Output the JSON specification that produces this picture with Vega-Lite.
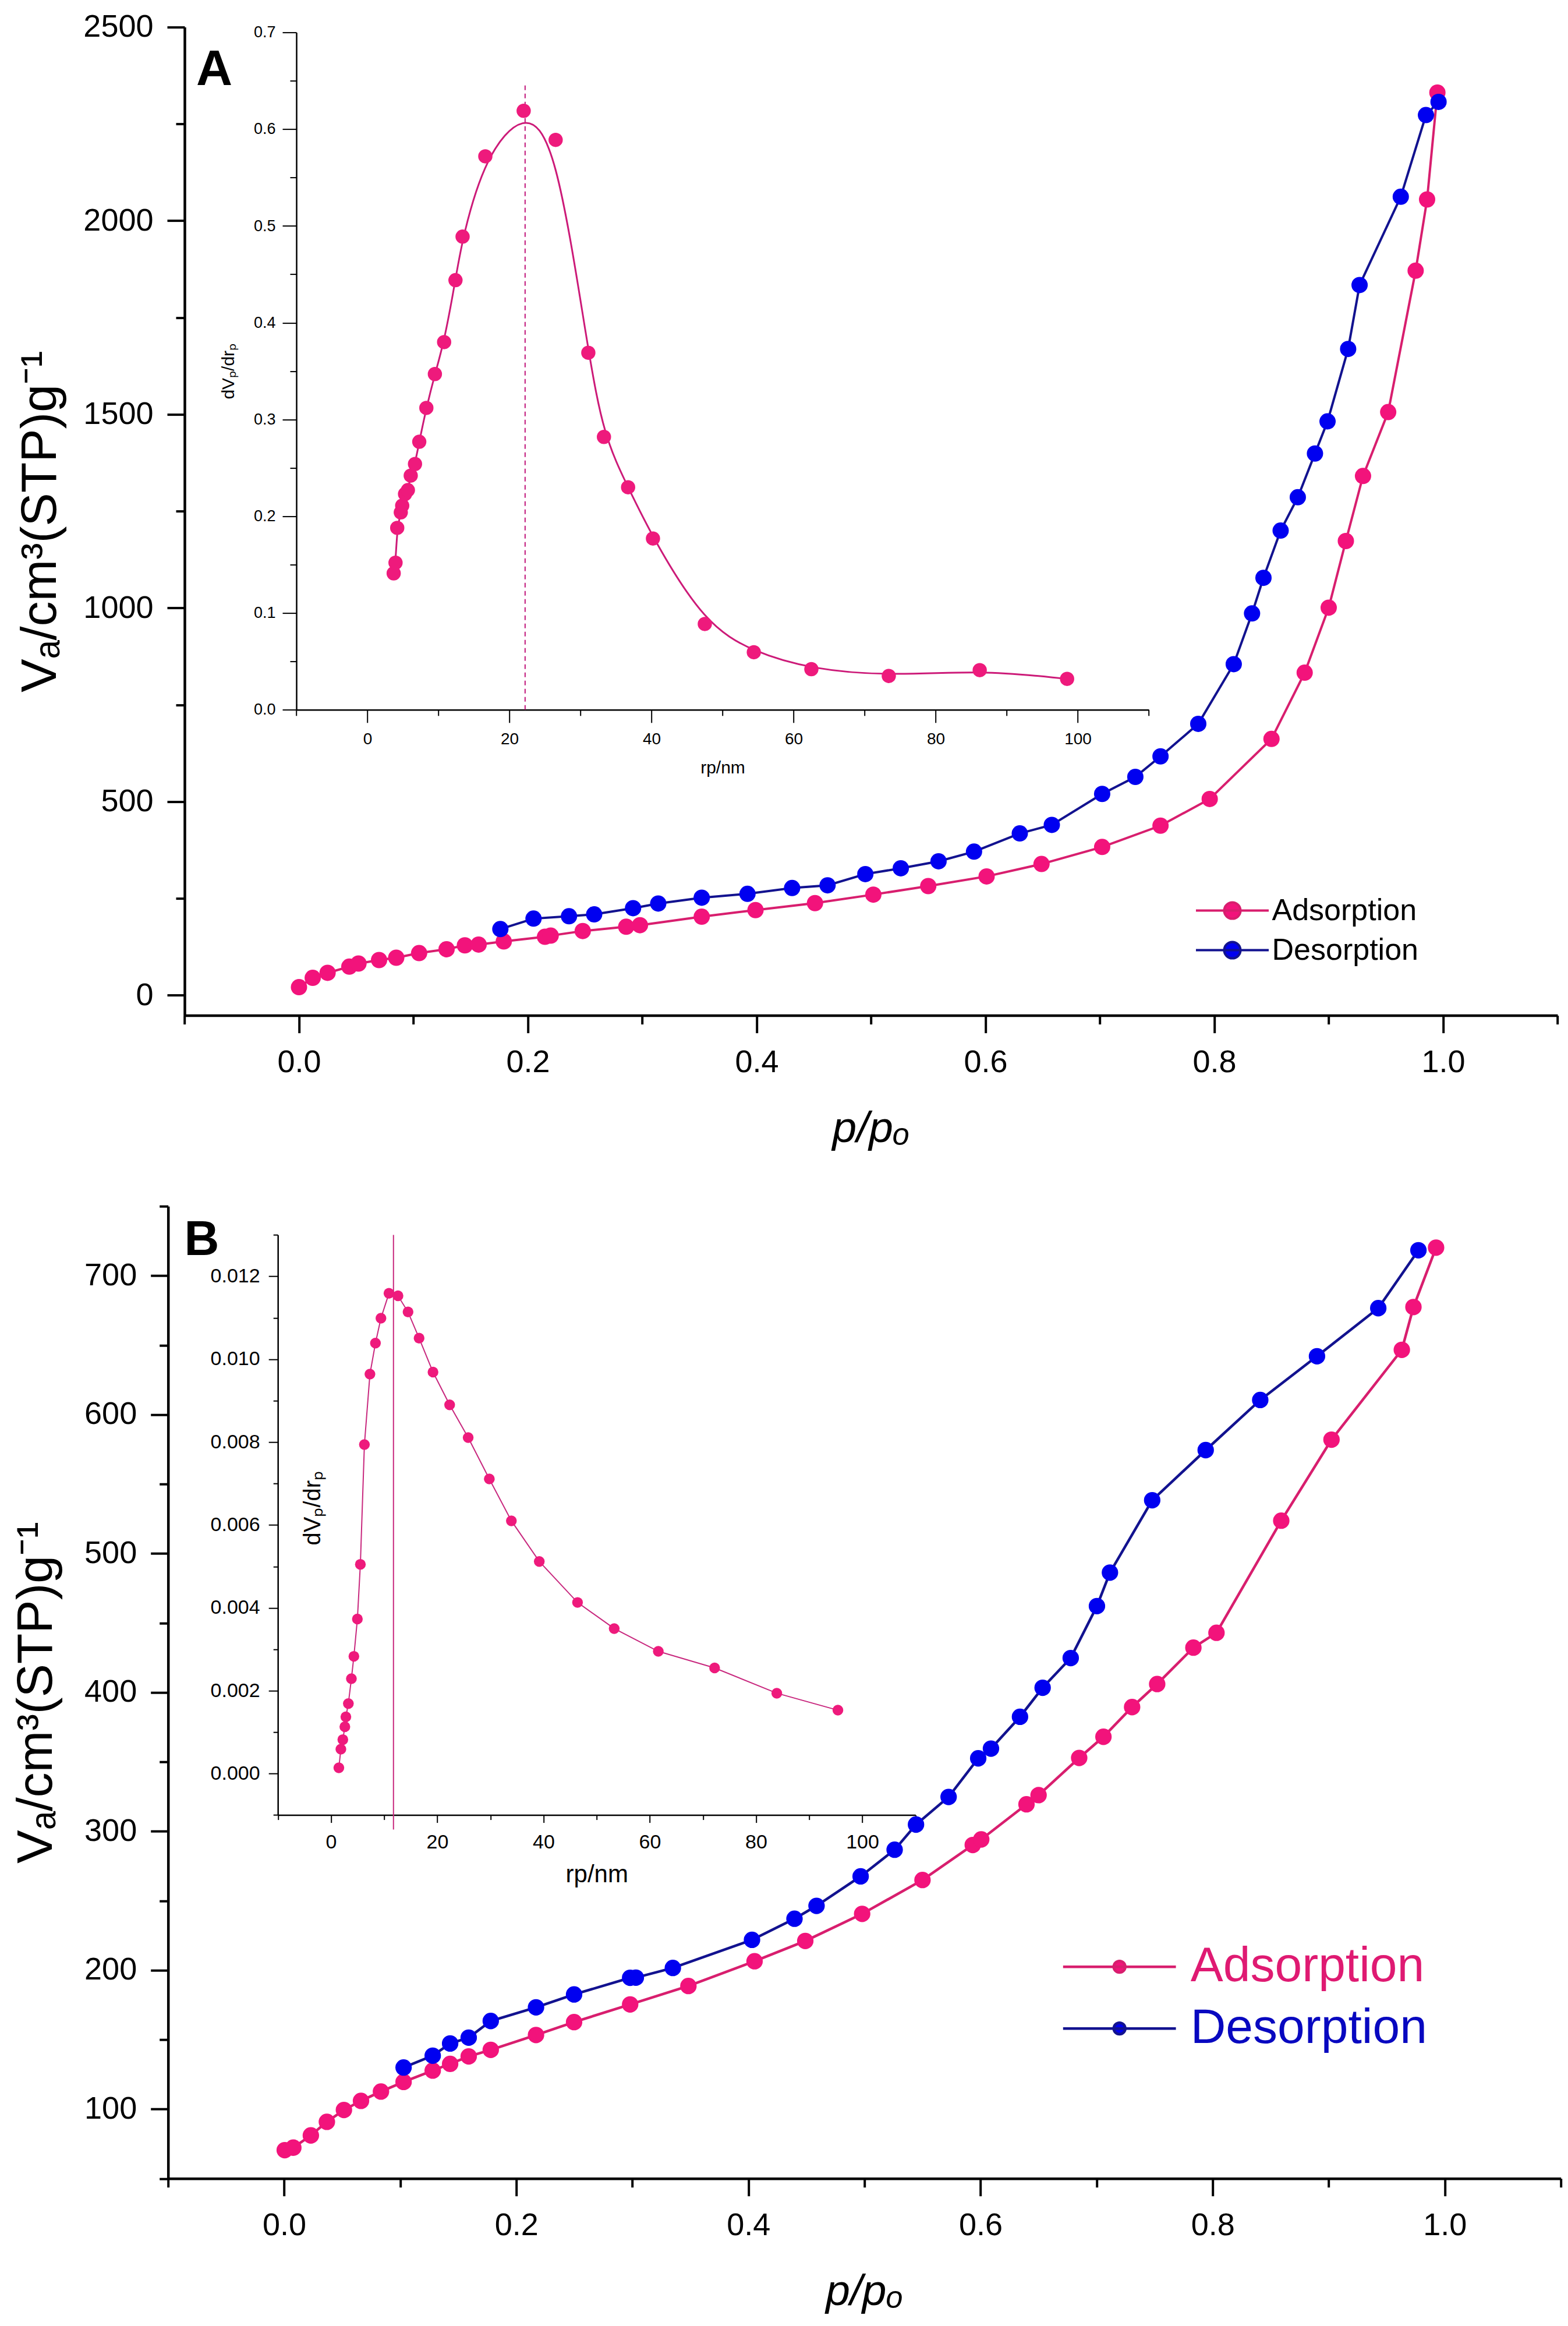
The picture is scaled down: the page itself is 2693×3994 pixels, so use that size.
{
  "$schema": "https://vega.github.io/schema/vega-lite/v6.json",
  "autosize": {"type": "none"},
  "padding": {"left": 288.7, "top": 46.6, "right": 2404.3, "bottom": 3947.4},
  "background": "white",
  "spacing": 327.6,
  "bounds": "flush",
  "resolve": {
    "scale": {"fill": "independent", "stroke": "independent"},
    "legend": {"fill": "independent", "stroke": "independent"}
  },
  "config": {
    "view": {"stroke": null},
    "axis": {
      "grid": false, "labelFlush": false, "labelOverlap": false, "labelBound": false,
      "domainColor": "#000", "tickColor": "#000", "labelColor": "#000", "titleColor": "#000",
      "labelFont": "Liberation Sans", "titleFont": "Liberation Sans", "titleFontWeight": "normal"
    },
    "legend": {"labelFont": "Liberation Sans", "padding": 0, "title": null, "labelLimit": 0},
    "text": {"font": "Liberation Sans"}
  },
  "datasets": {
    "isoA": [
      {"p": 0.000, "V": 21, "branch": "Adsorption"},
      {"p": 0.012, "V": 45, "branch": "Adsorption"},
      {"p": 0.025, "V": 58, "branch": "Adsorption"},
      {"p": 0.044, "V": 74, "branch": "Adsorption"},
      {"p": 0.052, "V": 82, "branch": "Adsorption"},
      {"p": 0.070, "V": 91, "branch": "Adsorption"},
      {"p": 0.085, "V": 97, "branch": "Adsorption"},
      {"p": 0.105, "V": 109, "branch": "Adsorption"},
      {"p": 0.129, "V": 119, "branch": "Adsorption"},
      {"p": 0.145, "V": 129, "branch": "Adsorption"},
      {"p": 0.157, "V": 131, "branch": "Adsorption"},
      {"p": 0.179, "V": 139, "branch": "Adsorption"},
      {"p": 0.215, "V": 151, "branch": "Adsorption"},
      {"p": 0.220, "V": 154, "branch": "Adsorption"},
      {"p": 0.248, "V": 166, "branch": "Adsorption"},
      {"p": 0.286, "V": 177, "branch": "Adsorption"},
      {"p": 0.298, "V": 181, "branch": "Adsorption"},
      {"p": 0.352, "V": 203, "branch": "Adsorption"},
      {"p": 0.399, "V": 220, "branch": "Adsorption"},
      {"p": 0.451, "V": 238, "branch": "Adsorption"},
      {"p": 0.502, "V": 260, "branch": "Adsorption"},
      {"p": 0.550, "V": 282, "branch": "Adsorption"},
      {"p": 0.601, "V": 307, "branch": "Adsorption"},
      {"p": 0.649, "V": 339, "branch": "Adsorption"},
      {"p": 0.702, "V": 383, "branch": "Adsorption"},
      {"p": 0.753, "V": 438, "branch": "Adsorption"},
      {"p": 0.796, "V": 507, "branch": "Adsorption"},
      {"p": 0.850, "V": 662, "branch": "Adsorption"},
      {"p": 0.879, "V": 833, "branch": "Adsorption"},
      {"p": 0.900, "V": 1001, "branch": "Adsorption"},
      {"p": 0.915, "V": 1173, "branch": "Adsorption"},
      {"p": 0.930, "V": 1341, "branch": "Adsorption"},
      {"p": 0.952, "V": 1506, "branch": "Adsorption"},
      {"p": 0.976, "V": 1871, "branch": "Adsorption"},
      {"p": 0.986, "V": 2055, "branch": "Adsorption"},
      {"p": 0.995, "V": 2331, "branch": "Adsorption"},
      {"p": 0.176, "V": 171, "branch": "Desorption"},
      {"p": 0.205, "V": 198, "branch": "Desorption"},
      {"p": 0.236, "V": 204, "branch": "Desorption"},
      {"p": 0.258, "V": 209, "branch": "Desorption"},
      {"p": 0.292, "V": 225, "branch": "Desorption"},
      {"p": 0.314, "V": 237, "branch": "Desorption"},
      {"p": 0.352, "V": 252, "branch": "Desorption"},
      {"p": 0.392, "V": 262, "branch": "Desorption"},
      {"p": 0.431, "V": 277, "branch": "Desorption"},
      {"p": 0.462, "V": 284, "branch": "Desorption"},
      {"p": 0.495, "V": 313, "branch": "Desorption"},
      {"p": 0.526, "V": 328, "branch": "Desorption"},
      {"p": 0.559, "V": 346, "branch": "Desorption"},
      {"p": 0.590, "V": 371, "branch": "Desorption"},
      {"p": 0.630, "V": 418, "branch": "Desorption"},
      {"p": 0.658, "V": 440, "branch": "Desorption"},
      {"p": 0.702, "V": 520, "branch": "Desorption"},
      {"p": 0.731, "V": 564, "branch": "Desorption"},
      {"p": 0.753, "V": 617, "branch": "Desorption"},
      {"p": 0.786, "V": 701, "branch": "Desorption"},
      {"p": 0.817, "V": 855, "branch": "Desorption"},
      {"p": 0.833, "V": 986, "branch": "Desorption"},
      {"p": 0.843, "V": 1078, "branch": "Desorption"},
      {"p": 0.858, "V": 1200, "branch": "Desorption"},
      {"p": 0.873, "V": 1286, "branch": "Desorption"},
      {"p": 0.888, "V": 1399, "branch": "Desorption"},
      {"p": 0.899, "V": 1482, "branch": "Desorption"},
      {"p": 0.917, "V": 1669, "branch": "Desorption"},
      {"p": 0.927, "V": 1834, "branch": "Desorption"},
      {"p": 0.963, "V": 2062, "branch": "Desorption"},
      {"p": 0.985, "V": 2273, "branch": "Desorption"},
      {"p": 0.996, "V": 2307, "branch": "Desorption"}
    ],
    "poreA": [
      {"rp": 3.7, "dv": 0.141}, {"rp": 3.96, "dv": 0.152}, {"rp": 4.2, "dv": 0.188},
      {"rp": 4.7, "dv": 0.204}, {"rp": 4.9, "dv": 0.211}, {"rp": 5.3, "dv": 0.223},
      {"rp": 5.7, "dv": 0.227}, {"rp": 6.1, "dv": 0.242}, {"rp": 6.7, "dv": 0.254},
      {"rp": 7.3, "dv": 0.277}, {"rp": 8.3, "dv": 0.312}, {"rp": 9.5, "dv": 0.347},
      {"rp": 10.8, "dv": 0.380}, {"rp": 12.4, "dv": 0.444}, {"rp": 13.4, "dv": 0.489},
      {"rp": 16.6, "dv": 0.572}, {"rp": 22.0, "dv": 0.619}, {"rp": 26.5, "dv": 0.589},
      {"rp": 31.1, "dv": 0.369}, {"rp": 33.3, "dv": 0.282}, {"rp": 36.7, "dv": 0.230},
      {"rp": 40.2, "dv": 0.177}, {"rp": 47.5, "dv": 0.0887}, {"rp": 54.4, "dv": 0.0595},
      {"rp": 62.5, "dv": 0.042}, {"rp": 73.4, "dv": 0.035}, {"rp": 86.2, "dv": 0.041},
      {"rp": 98.5, "dv": 0.032}
    ],
    "isoB": [
      {"p": 0.0005, "V": 70.4, "branch": "Adsorption"},
      {"p": 0.0079, "V": 72.2, "branch": "Adsorption"},
      {"p": 0.023, "V": 81.0, "branch": "Adsorption"},
      {"p": 0.0368, "V": 90.8, "branch": "Adsorption"},
      {"p": 0.0515, "V": 99.3, "branch": "Adsorption"},
      {"p": 0.0662, "V": 105.9, "branch": "Adsorption"},
      {"p": 0.0834, "V": 112.6, "branch": "Adsorption"},
      {"p": 0.1029, "V": 119.5, "branch": "Adsorption"},
      {"p": 0.128, "V": 127.7, "branch": "Adsorption"},
      {"p": 0.143, "V": 132.5, "branch": "Adsorption"},
      {"p": 0.159, "V": 137.9, "branch": "Adsorption"},
      {"p": 0.178, "V": 142.6, "branch": "Adsorption"},
      {"p": 0.217, "V": 153.3, "branch": "Adsorption"},
      {"p": 0.2498, "V": 162.6, "branch": "Adsorption"},
      {"p": 0.2981, "V": 175.3, "branch": "Adsorption"},
      {"p": 0.3483, "V": 188.6, "branch": "Adsorption"},
      {"p": 0.4053, "V": 206.4, "branch": "Adsorption"},
      {"p": 0.449, "V": 221.0, "branch": "Adsorption"},
      {"p": 0.498, "V": 240.5, "branch": "Adsorption"},
      {"p": 0.550, "V": 264.9, "branch": "Adsorption"},
      {"p": 0.5933, "V": 290.1, "branch": "Adsorption"},
      {"p": 0.6006, "V": 294.1, "branch": "Adsorption"},
      {"p": 0.6396, "V": 319.4, "branch": "Adsorption"},
      {"p": 0.650, "V": 326.0, "branch": "Adsorption"},
      {"p": 0.685, "V": 352.8, "branch": "Adsorption"},
      {"p": 0.7059, "V": 368.0, "branch": "Adsorption"},
      {"p": 0.7306, "V": 389.4, "branch": "Adsorption"},
      {"p": 0.7522, "V": 406.0, "branch": "Adsorption"},
      {"p": 0.7834, "V": 432.2, "branch": "Adsorption"},
      {"p": 0.8033, "V": 442.9, "branch": "Adsorption"},
      {"p": 0.8591, "V": 523.6, "branch": "Adsorption"},
      {"p": 0.9024, "V": 581.9, "branch": "Adsorption"},
      {"p": 0.963, "V": 646.6, "branch": "Adsorption"},
      {"p": 0.973, "V": 677.4, "branch": "Adsorption"},
      {"p": 0.9925, "V": 720.2, "branch": "Adsorption"},
      {"p": 0.1029, "V": 129.9, "branch": "Desorption"},
      {"p": 0.128, "V": 138.4, "branch": "Desorption"},
      {"p": 0.143, "V": 147.2, "branch": "Desorption"},
      {"p": 0.159, "V": 151.4, "branch": "Desorption"},
      {"p": 0.178, "V": 163.4, "branch": "Desorption"},
      {"p": 0.217, "V": 173.2, "branch": "Desorption"},
      {"p": 0.2498, "V": 182.5, "branch": "Desorption"},
      {"p": 0.2981, "V": 194.5, "branch": "Desorption"},
      {"p": 0.303, "V": 194.6, "branch": "Desorption"},
      {"p": 0.3349, "V": 201.6, "branch": "Desorption"},
      {"p": 0.4031, "V": 221.8, "branch": "Desorption"},
      {"p": 0.4397, "V": 237.0, "branch": "Desorption"},
      {"p": 0.4587, "V": 246.3, "branch": "Desorption"},
      {"p": 0.4967, "V": 267.5, "branch": "Desorption"},
      {"p": 0.526, "V": 286.7, "branch": "Desorption"},
      {"p": 0.5444, "V": 304.8, "branch": "Desorption"},
      {"p": 0.5725, "V": 324.7, "branch": "Desorption"},
      {"p": 0.598, "V": 352.5, "branch": "Desorption"},
      {"p": 0.609, "V": 359.5, "branch": "Desorption"},
      {"p": 0.634, "V": 382.4, "branch": "Desorption"},
      {"p": 0.6535, "V": 403.3, "branch": "Desorption"},
      {"p": 0.6777, "V": 424.7, "branch": "Desorption"},
      {"p": 0.7003, "V": 462.1, "branch": "Desorption"},
      {"p": 0.7115, "V": 486.2, "branch": "Desorption"},
      {"p": 0.7479, "V": 538.3, "branch": "Desorption"},
      {"p": 0.794, "V": 574.4, "branch": "Desorption"},
      {"p": 0.841, "V": 610.5, "branch": "Desorption"},
      {"p": 0.8899, "V": 642.0, "branch": "Desorption"},
      {"p": 0.9427, "V": 676.6, "branch": "Desorption"},
      {"p": 0.9773, "V": 718.3, "branch": "Desorption"}
    ],
    "poreB": [
      {"rp": 1.48, "dv": 0.00014}, {"rp": 1.86, "dv": 0.00059}, {"rp": 2.23, "dv": 0.00082},
      {"rp": 2.61, "dv": 0.00113}, {"rp": 2.8, "dv": 0.00137}, {"rp": 3.27, "dv": 0.00169},
      {"rp": 3.84, "dv": 0.00229}, {"rp": 4.31, "dv": 0.00283}, {"rp": 4.97, "dv": 0.00373},
      {"rp": 5.53, "dv": 0.00505}, {"rp": 6.29, "dv": 0.00794}, {"rp": 7.33, "dv": 0.00964},
      {"rp": 8.37, "dv": 0.01039}, {"rp": 9.40, "dv": 0.01099}, {"rp": 10.91, "dv": 0.01159},
      {"rp": 12.61, "dv": 0.01153}, {"rp": 14.5, "dv": 0.01114}, {"rp": 16.58, "dv": 0.01051},
      {"rp": 19.2, "dv": 0.00969}, {"rp": 22.33, "dv": 0.0089}, {"rp": 25.82, "dv": 0.00811},
      {"rp": 29.8, "dv": 0.00711}, {"rp": 33.95, "dv": 0.0061}, {"rp": 39.2, "dv": 0.00512},
      {"rp": 46.4, "dv": 0.00413}, {"rp": 53.3, "dv": 0.0035}, {"rp": 61.6, "dv": 0.00295},
      {"rp": 72.2, "dv": 0.00255}, {"rp": 83.9, "dv": 0.00194}, {"rp": 95.4, "dv": 0.00153}
    ]
  },
  "vconcat": [
    {
      "width": 2392,
      "height": 1697,
      "layer": [
        {
          "data": {"name": "isoA"},
          "encoding": {
            "x": {
              "field": "p", "type": "quantitative",
              "scale": {"domain": [-0.1, 1.1], "range": [28.3, 2386.3], "nice": false, "zero": false},
              "axis": {
                "orient": "bottom", "title": "p/pₒ",
                "values": [-0.1, 0, 0.1, 0.2, 0.3, 0.4, 0.5, 0.6, 0.7, 0.8, 0.9, 1.0, 1.1],
                "format": ".1f",
                "labelExpr": "abs(datum.value*5 - round(datum.value*5)) < 1e-6 ? datum.label : ''",
                "tickSize": {"condition": {"test": "abs(datum.value*5 - round(datum.value*5)) < 1e-6", "value": 30}, "value": 15},
                "tickWidth": 4, "domainWidth": 4.5,
                "labelFontSize": 54, "labelPadding": 24,
                "titleFontSize": 75, "titleFontStyle": "italic", "titlePadding": 50
              }
            },
            "y": {
              "field": "V", "type": "quantitative",
              "scale": {"domain": [-52, 2500], "nice": false, "zero": false},
              "axis": {
                "orient": "left", "offset": -28.3, "title": "Vₐ/cm³(STP)g⁻¹",
                "values": [0, 250, 500, 750, 1000, 1250, 1500, 1750, 2000, 2250, 2500],
                "format": "d",
                "labelExpr": "datum.value % 500 === 0 ? datum.label : ''",
                "tickSize": {"condition": {"test": "datum.value % 500 === 0", "value": 30}, "value": 15},
                "tickWidth": 4, "domainWidth": 4.5,
                "labelFontSize": 54, "labelPadding": 24,
                "titleFontSize": 86, "titlePadding": 29
              }
            }
          },
          "layer": [
            {
              "mark": {"type": "line", "strokeWidth": 4},
              "encoding": {
                "stroke": {
                  "field": "branch", "type": "nominal",
                  "scale": {"domain": ["Adsorption", "Desorption"], "range": ["#d81e6e", "#12128f"]},
                  "legend": {
                    "orient": "none", "legendX": 1800.8, "legendY": 1490,
                    "symbolType": "M-2.5,0H2.5M0.56,0A0.56,0.56,0,1,1,-0.56,0A0.56,0.56,0,1,1,0.56,0Z",
                    "symbolSize": 2500, "symbolStrokeWidth": 4,
                    "labelFontSize": 52, "labelOffset": 41, "labelColor": "#000", "rowPadding": 15
                  }
                }
              }
            },
            {
              "mark": {"type": "point", "filled": true, "shape": "circle", "size": 784, "opacity": 1},
              "encoding": {
                "fill": {
                  "field": "branch", "type": "nominal",
                  "scale": {"domain": ["Adsorption", "Desorption"], "range": ["#f2137b", "#0000f0"]},
                  "legend": {
                    "orient": "none", "legendX": 1800.8, "legendY": 1490,
                    "symbolType": "M-2.5,0H2.5M0.56,0A0.56,0.56,0,1,1,-0.56,0A0.56,0.56,0,1,1,0.56,0Z",
                    "symbolSize": 2500, "symbolStrokeWidth": 4,
                    "labelFontSize": 52, "labelOffset": 41, "labelColor": "#000", "rowPadding": 15
                  }
                }
              }
            },
            {
              "data": {"values": [{"p": -0.074, "V": 2351, "tag": "A"}]},
              "mark": {"type": "text", "fontSize": 86, "fontWeight": "bold", "align": "center", "baseline": "alphabetic", "color": "#000"},
              "encoding": {"text": {"field": "tag"}}
            }
          ]
        },
        {
          "data": {"name": "poreA"},
          "encoding": {
            "x": {
              "field": "rp", "type": "quantitative",
              "scale": {"domain": [-10, 110], "range": [220.3, 1684.3], "nice": false, "zero": false},
              "axis": {
                "orient": "bottom", "offset": -524.8, "title": "rp/nm",
                "values": [-10, 0, 10, 20, 30, 40, 50, 60, 70, 80, 90, 100, 110],
                "format": "d",
                "labelExpr": "datum.value % 20 === 0 ? datum.label : ''",
                "tickSize": {"condition": {"test": "datum.value % 20 === 0", "value": 22}, "value": 10},
                "tickWidth": 2, "domainWidth": 2.5,
                "labelFontSize": 28, "labelPadding": 15,
                "titleFontSize": 30, "titlePadding": 20
              }
            },
            "y": {
              "field": "dv", "type": "quantitative",
              "scale": {"domain": [0, 0.7], "range": [1172.2, 9.1], "nice": false, "zero": false},
              "axis": {
                "orient": "left", "offset": -220.3, "title": "dVₚ/drₚ",
                "values": [0, 0.05, 0.1, 0.15, 0.2, 0.25, 0.3, 0.35, 0.4, 0.45, 0.5, 0.55, 0.6, 0.65, 0.7],
                "format": ".1f",
                "labelExpr": "abs(datum.value*10 - round(datum.value*10)) < 1e-6 ? datum.label : ''",
                "tickSize": {"condition": {"test": "abs(datum.value*10 - round(datum.value*10)) < 1e-6", "value": 24}, "value": 11},
                "tickWidth": 2, "domainWidth": 2.5,
                "labelFontSize": 27, "labelPadding": 12,
                "titleFontSize": 30, "titlePadding": 28
              }
            }
          },
          "layer": [
            {
              "data": {"values": [{"rp": 22.2, "dv": 0, "dvTop": 0.646}]},
              "mark": {"type": "rule", "strokeDash": [8, 6], "strokeWidth": 2, "color": "#c0157a"},
              "encoding": {"y2": {"field": "dvTop"}}
            },
            {"mark": {"type": "line", "interpolate": "basis", "strokeWidth": 3, "color": "#cc1a78"}},
            {"mark": {"type": "point", "filled": true, "shape": "circle", "size": 600, "opacity": 1, "color": "#ee1a7c"}}
          ]
        }
      ],
      "resolve": {"scale": {"x": "independent", "y": "independent"}}
    },
    {
      "width": 2392,
      "height": 1669.5,
      "layer": [
        {
          "data": {"name": "isoB"},
          "encoding": {
            "x": {
              "field": "p", "type": "quantitative",
              "scale": {"domain": [-0.1, 1.1], "nice": false, "zero": false},
              "axis": {
                "orient": "bottom", "title": "p/pₒ",
                "values": [-0.1, 0, 0.1, 0.2, 0.3, 0.4, 0.5, 0.6, 0.7, 0.8, 0.9, 1.0, 1.1],
                "format": ".1f",
                "labelExpr": "abs(datum.value*5 - round(datum.value*5)) < 1e-6 ? datum.label : ''",
                "tickSize": {"condition": {"test": "abs(datum.value*5 - round(datum.value*5)) < 1e-6", "value": 30}, "value": 15},
                "tickWidth": 4, "domainWidth": 4.5,
                "labelFontSize": 54, "labelPadding": 24,
                "titleFontSize": 75, "titleFontStyle": "italic", "titlePadding": 50
              }
            },
            "y": {
              "field": "V", "type": "quantitative",
              "scale": {"domain": [50, 750], "nice": false, "zero": false},
              "axis": {
                "orient": "left", "title": "Vₐ/cm³(STP)g⁻¹",
                "values": [50, 100, 150, 200, 250, 300, 350, 400, 450, 500, 550, 600, 650, 700, 750],
                "format": "d",
                "labelExpr": "datum.value % 100 === 0 ? datum.label : ''",
                "tickSize": {"condition": {"test": "datum.value % 100 === 0", "value": 30}, "value": 15},
                "tickWidth": 4, "domainWidth": 4.5,
                "labelFontSize": 54, "labelPadding": 24,
                "titleFontSize": 86, "titlePadding": 38
              }
            }
          },
          "layer": [
            {
              "mark": {"type": "line", "strokeWidth": 4.5},
              "encoding": {
                "stroke": {
                  "field": "branch", "type": "nominal",
                  "scale": {"domain": ["Adsorption", "Desorption"], "range": ["#d81e6e", "#12128f"]},
                  "legend": {
                    "orient": "none", "legendX": 1592, "legendY": 1264,
                    "symbolType": "M-3.23,0H3.23M0.33,0A0.33,0.33,0,1,1,-0.33,0A0.33,0.33,0,1,1,0.33,0Z",
                    "symbolSize": 3600, "symbolStrokeWidth": 4.5,
                    "labelFontSize": 84, "labelOffset": 80, "rowPadding": 22,
                    "labelColor": {"expr": "datum.value === 'Adsorption' ? '#df1a72' : '#0808c0'"}
                  }
                }
              }
            },
            {
              "mark": {"type": "point", "filled": true, "shape": "circle", "size": 800, "opacity": 1},
              "encoding": {
                "fill": {
                  "field": "branch", "type": "nominal",
                  "scale": {"domain": ["Adsorption", "Desorption"], "range": ["#f2137b", "#0000f0"]},
                  "legend": {
                    "orient": "none", "legendX": 1592, "legendY": 1264,
                    "symbolType": "M-3.23,0H3.23M0.33,0A0.33,0.33,0,1,1,-0.33,0A0.33,0.33,0,1,1,0.33,0Z",
                    "symbolSize": 3600, "symbolStrokeWidth": 4.5,
                    "labelFontSize": 84, "labelOffset": 80, "rowPadding": 22,
                    "labelColor": {"expr": "datum.value === 'Adsorption' ? '#df1a72' : '#0808c0'"}
                  }
                }
              }
            },
            {
              "data": {"values": [{"p": -0.071, "V": 714.9, "tag": "B"}]},
              "mark": {"type": "text", "fontSize": 83, "fontWeight": "bold", "align": "center", "baseline": "alphabetic", "color": "#000"},
              "encoding": {"text": {"field": "tag"}}
            }
          ]
        },
        {
          "data": {"name": "poreB"},
          "encoding": {
            "x": {
              "field": "rp", "type": "quantitative",
              "scale": {"domain": [-10, 110], "range": [188.5, 1283.6], "nice": false, "zero": false},
              "axis": {
                "orient": "bottom", "offset": -624.1, "title": "rp/nm",
                "values": [-10, 0, 10, 20, 30, 40, 50, 60, 70, 80, 90, 100, 110],
                "format": "d",
                "labelExpr": "datum.value % 20 === 0 ? datum.label : ''",
                "tickSize": {"condition": {"test": "datum.value % 20 === 0", "value": 13}, "value": 8},
                "tickWidth": 2, "domainWidth": 2.5,
                "labelFontSize": 34, "labelPadding": 17,
                "titleFontSize": 42, "titlePadding": 18
              }
            },
            "y": {
              "field": "dv", "type": "quantitative",
              "scale": {"domain": [-0.001, 0.013], "range": [1045.4, 49.3], "nice": false, "zero": false},
              "axis": {
                "orient": "left", "offset": -188.5, "title": "dVₚ/drₚ",
                "values": [-0.001, 0, 0.001, 0.002, 0.003, 0.004, 0.005, 0.006, 0.007, 0.008, 0.009, 0.01, 0.011, 0.012, 0.013],
                "format": ".3f",
                "labelExpr": "abs(datum.value*500 - round(datum.value*500)) < 1e-6 ? datum.label : ''",
                "tickSize": {"condition": {"test": "abs(datum.value*500 - round(datum.value*500)) < 1e-6", "value": 16}, "value": 8},
                "tickWidth": 2, "domainWidth": 2.5,
                "labelFontSize": 34, "labelPadding": 15,
                "titleFontSize": 40, "titleX": 60, "titleY": 518, "titleBaseline": "middle", "titleAlign": "center", "titleAngle": 270
              }
            }
          },
          "layer": [
            {
              "data": {"values": [{"rp": 11.76, "dv": -0.00135, "dvTop": 0.013}]},
              "mark": {"type": "rule", "strokeWidth": 2, "color": "#c8287e"},
              "encoding": {"y2": {"field": "dvTop"}}
            },
            {"mark": {"type": "line", "strokeWidth": 2, "color": "#c8287e"}},
            {"mark": {"type": "point", "filled": true, "shape": "circle", "size": 340, "opacity": 1, "color": "#ee1a7c"}}
          ]
        }
      ],
      "resolve": {"scale": {"x": "independent", "y": "independent"}}
    }
  ]
}
